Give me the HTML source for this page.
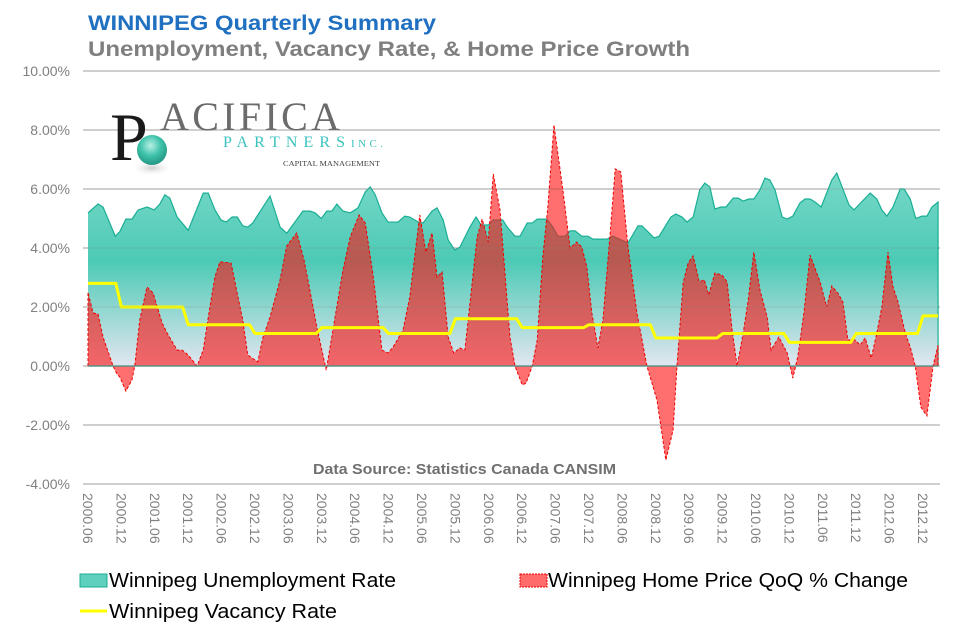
<!DOCTYPE html>
<html><head><meta charset="utf-8"><style>
html,body{margin:0;padding:0;background:#fff;}
svg{display:block;font-family:"Liberation Sans",Arial,sans-serif;}
</style></head><body>
<svg id="chart" width="963" height="640" viewBox="0 0 963 640" xmlns="http://www.w3.org/2000/svg">
<defs>
<linearGradient id="tealGrad" gradientUnits="userSpaceOnUse" x1="0" y1="175" x2="0" y2="366">
<stop offset="0" stop-color="#78d8c8"/><stop offset="0.45" stop-color="#4ccab5"/><stop offset="1" stop-color="#e2e6f0"/>
</linearGradient>
<radialGradient id="sphere" cx="0.45" cy="0.35" r="0.7">
<stop offset="0" stop-color="#b8f0e6"/><stop offset="0.5" stop-color="#3ec2aa"/><stop offset="1" stop-color="#1f8f7c"/>
</radialGradient>
<radialGradient id="shadow" cx="0.5" cy="0.5" r="0.5">
<stop offset="0" stop-color="#aaa" stop-opacity="0.6"/><stop offset="1" stop-color="#fff" stop-opacity="0"/>
</radialGradient>
</defs>
<text x="88" y="30" font-size="21" font-weight="bold" fill="#1f70c1" textLength="348" lengthAdjust="spacingAndGlyphs">WINNIPEG Quarterly Summary</text>
<text x="88" y="56" font-size="21" font-weight="bold" fill="#7f7f7f" textLength="602" lengthAdjust="spacingAndGlyphs">Unemployment, Vacancy Rate, &amp; Home Price Growth</text>
<g id="grid"></g>
<g id="yticks"></g>
<g id="xticks"></g>
<g id="series"></g>
<g id="grid2"></g>
<g>
<ellipse cx="152" cy="168" rx="22" ry="8" fill="url(#shadow)"/>
<text x="110" y="160" font-family="'Liberation Serif',serif" font-size="68" fill="#1a1a1a">P</text>
<circle cx="152" cy="150" r="15" fill="url(#sphere)"/>
<text x="160" y="130" font-family="'Liberation Serif',serif" font-size="40" fill="#6b6b6b" textLength="180" lengthAdjust="spacing">ACIFICA</text>
<text x="223" y="147" font-family="'Liberation Serif',serif" font-size="16" fill="#3cc3bd" textLength="122" lengthAdjust="spacing">PARTNERS</text>
<text x="351" y="147" font-family="'Liberation Serif',serif" font-size="11" fill="#3cc3bd" textLength="32" lengthAdjust="spacing">INC.</text>
<text x="283" y="166" font-family="'Liberation Serif',serif" font-size="7" fill="#444" textLength="97" lengthAdjust="spacingAndGlyphs">CAPITAL MANAGEMENT</text>
</g>
<text x="313" y="474" font-size="15" font-weight="bold" fill="#707070" textLength="303" lengthAdjust="spacingAndGlyphs">Data Source: Statistics Canada CANSIM</text>
<g>
<g>
<rect x="80" y="574" width="27" height="13" fill="#5fd0bd" stroke="#1aae94"/>
<text x="109" y="587" font-size="20" fill="#000" textLength="287" lengthAdjust="spacingAndGlyphs">Winnipeg Unemployment Rate</text>
</g>
<g>
<rect x="520" y="574" width="27" height="13" fill="#ff6b6b" stroke="#e00" stroke-dasharray="2,1"/>
<text x="548" y="587" font-size="20" fill="#000" textLength="360" lengthAdjust="spacingAndGlyphs">Winnipeg Home Price QoQ % Change</text>
</g>
<g>
<line x1="80" y1="611" x2="107" y2="611" stroke="#ffff00" stroke-width="3"/>
<text x="109" y="618" font-size="20" fill="#000" textLength="228" lengthAdjust="spacingAndGlyphs">Winnipeg Vacancy Rate</text>
</g>
</g>
</svg>
<script>
const yTicks = [10, 8, 6, 4, 2, 0, -2, -4];
const xLabels = ["2000.06","2000.12","2001.06","2001.12","2002.06","2002.12","2003.06","2003.12","2004.06","2004.12","2005.06","2005.12","2006.06","2006.12","2007.06","2007.12","2008.06","2008.12","2009.06","2009.12","2010.06","2010.12","2011.06","2011.12","2012.06","2012.12"];
// months since 2000.06
const unempMonths = [0,1.8,2.7,4.9,5.7,6.8,7.9,9.0,10.6,11.9,12.9,13.8,14.7,16.0,18.0,20.7,21.6,22.8,23.9,24.8,25.9,26.8,27.8,28.7,29.6,32.7,34.5,35.7,38.6,39.9,40.8,41.9,42.9,43.8,44.7,45.8,47.1,48.5,49.8,50.7,51.6,52.8,53.9,55.7,56.9,57.8,59.3,60.2,61.8,62.7,63.8,64.7,65.9,66.8,68.6,69.7,70.6,71.9,72.8,74.5,75.3,76.7,77.6,78.9,79.8,80.7,82.4,83.5,84.4,85.7,86.6,87.5,88.7,89.8,90.7,93.2,94.3,97.0,98.8,99.5,101.7,102.6,104.7,105.6,106.7,107.6,108.7,109.9,110.8,111.7,112.6,113.7,114.6,115.9,116.8,117.7,118.7,119.6,120.7,121.6,122.5,123.4,124.7,125.6,126.6,127.9,128.8,129.7,130.6,131.7,133.6,134.5,136.7,137.6,140.5,141.7,142.6,143.5,144.6,145.9,146.6,147.7,148.7,149.8,150.7,151.6,152.7];
const unempValues = [5.19,5.49,5.39,4.4,4.55,4.98,4.98,5.29,5.39,5.29,5.49,5.8,5.69,5.05,4.6,5.86,5.86,5.29,4.95,4.88,5.05,5.05,4.75,4.71,4.85,5.76,4.71,4.5,5.25,5.25,5.19,5.0,5.25,5.25,5.49,5.25,5.19,5.36,5.9,6.07,5.8,5.19,4.88,4.88,5.08,5.05,4.88,4.85,5.25,5.36,4.95,4.27,3.93,4.03,4.71,5.05,4.78,4.78,4.95,4.95,4.71,4.4,4.4,4.85,4.85,4.98,4.98,4.71,4.4,4.4,4.58,4.58,4.4,4.4,4.3,4.3,4.4,4.17,4.75,4.75,4.34,4.4,5.05,5.15,5.05,4.88,5.05,5.97,6.2,6.07,5.32,5.39,5.39,5.69,5.69,5.59,5.66,5.66,5.97,6.37,6.3,5.97,5.05,4.98,5.08,5.53,5.66,5.66,5.56,5.39,6.3,6.54,5.46,5.29,5.86,5.66,5.29,5.08,5.39,6.0,6.0,5.66,5.0,5.08,5.08,5.39,5.56];
const homeMonths = [0,0.9,1.8,2.7,4.5,5.2,5.7,6.8,7.9,8.4,9.3,10.6,11.7,13.3,14.2,16.0,16.9,18.0,19.6,20.7,21.9,22.8,23.7,25.7,26.8,27.8,28.7,30.5,31.4,32.7,34.5,35.7,37.5,38.8,39.5,41.1,42.8,44.0,45.8,47.1,48.7,49.8,51.2,52.8,53.9,54.8,56.6,57.8,59.6,60.7,61.8,62.7,63.6,64.7,65.7,66.8,67.7,69.9,70.8,71.9,72.8,74.0,75.8,76.7,78.0,78.7,79.8,80.7,81.7,82.6,83.7,85.3,86.6,87.8,88.7,89.6,90.5,91.6,92.5,93.8,94.7,95.7,97.0,98.6,100.4,102.2,103.8,105.1,105.8,106.9,107.8,108.7,109.8,110.7,111.5,112.6,113.9,114.8,115.7,116.6,117.7,118.6,119.6,120.7,122.0,122.7,124.1,125.6,126.6,127.5,128.6,129.7,131.5,132.7,133.6,134.7,135.6,136.5,137.8,138.7,139.6,140.7,141.7,142.6,143.7,144.6,145.5,146.8,147.7,148.6,149.6,150.7,151.8,152.7];
const homeValues = [2.5,1.8,1.76,0.98,0,-0.27,-0.37,-0.85,-0.47,0,1.56,2.68,2.47,1.46,1.12,0.54,0.54,0.37,0,0.54,2.0,3.02,3.53,3.49,2.47,1.56,0.37,0.14,0.95,1.66,2.92,4.07,4.51,3.59,2.92,1.32,-0.14,1.22,3.25,4.37,5.12,4.85,3.08,0.54,0.44,0.64,1.22,2.34,5.12,3.86,4.51,3.02,3.19,0.98,0.44,0.61,0.54,4.37,4.98,4.2,6.51,5.3,0.98,0,-0.64,-0.58,0,0.88,3.7,5.39,8.17,5.97,4.0,4.2,4.03,3.36,1.8,0.61,1.56,4.51,6.68,6.58,4.03,1.8,0,-1.15,-3.19,-2.17,0,2.81,3.49,3.73,2.85,2.92,2.41,3.15,3.08,2.85,1.22,0,1.12,2.24,3.86,2.58,1.66,0.54,0.98,0.44,-0.41,0.31,1.8,3.76,2.85,2.0,2.71,2.47,2.17,0.88,0.88,0.71,0.95,0.27,1.12,2.0,3.86,2.68,2.17,1.12,0.64,0,-1.39,-1.69,0,0.71];
// annual vacancy rate, changes each November
const vacancyYears = [2000,2001,2002,2003,2004,2005,2006,2007,2008,2009,2010,2011,2012,2013];
const vacancyValues = [2.8,2.0,1.4,1.1,1.3,1.1,1.6,1.3,1.4,0.95,1.1,0.8,1.1,1.7];

const NS = "http://www.w3.org/2000/svg";
const X0 = 88, PXM = 5.567, Y0 = 366, PXV = 29.5, XEND = 152.7;
function xs(m){ return X0 + m*PXM; }
function ys(v){ return Y0 - v*PXV; }
function mk(tag, attrs, parent){ const e=document.createElementNS(NS,tag); for(const k in attrs) e.setAttribute(k, attrs[k]); parent.appendChild(e); return e; }

const grid = document.getElementById('grid'), grid2=document.getElementById('grid2'), yt=document.getElementById('yticks'), xt=document.getElementById('xticks'), ser=document.getElementById('series');
yTicks.forEach(v=>{
  const l = mk('line',{x1:83,x2:940,y1:ys(v),y2:ys(v),stroke:'#bfbfbf','stroke-width':1.3},grid);
  
  
  const l2 = mk('line',{x1:83,x2:940,y1:ys(v),y2:ys(v),stroke:'#808080','stroke-opacity':0.25,'stroke-width':1},grid2);
  
  
  const t = mk('text',{x:70,y:ys(v)+5,'text-anchor':'end','font-size':14,fill:'#808080'},yt);
  t.textContent = v.toFixed(2)+'%';
  
  
});
xLabels.forEach((s,i)=>{
  const x = xs(i*6);
  const t = mk('text',{x:0,y:0,transform:`translate(${x-5},493) rotate(90)`,'font-size':14,fill:'#808080'},xt);
  t.textContent = s;
  
  
});
let d = `M${xs(unempMonths[0])},${Y0}`;
unempMonths.forEach((m,i)=>{ d += ` L${xs(m)},${ys(unempValues[i])}`; });
d += ` L${xs(unempMonths[unempMonths.length-1])},${Y0} Z`;
const ua = mk('path',{d:d,fill:'url(#tealGrad)'},ser);


let dl = ''; unempMonths.forEach((m,i)=>{ dl += (i?' L':'M')+xs(m)+','+ys(unempValues[i]); });
dl += ` L${xs(unempMonths[unempMonths.length-1])},${Y0}`;
const ul = mk('path',{d:dl,fill:'none',stroke:'#1aae94','stroke-width':1.2},ser);


let hd = `M${xs(homeMonths[0])},${Y0}`;
homeMonths.forEach((m,i)=>{ hd += ` L${xs(m)},${ys(homeValues[i])}`; });
hd += ` L${xs(homeMonths[homeMonths.length-1])},${Y0} Z`;
const ha = mk('path',{d:hd,fill:'rgb(255,15,15)','fill-opacity':0.6,stroke:'#ee0000','stroke-width':1,'stroke-dasharray':'3,2'},ser);


const zl = mk('line',{x1:xs(0),x2:xs(XEND),y1:Y0,y2:Y0,stroke:'#2a9a86','stroke-width':1.2},ser);


let vd = '';
vacancyYears.forEach((yr,i)=>{
  const start = i===0 ? 0 : (yr-2000)*12 - 7 + 1;
  const end = Math.min((yr-2000)*12 + 5, XEND);
  vd += (i?' L':'M') + xs(start) + ',' + ys(vacancyValues[i]) + ' L' + xs(end) + ',' + ys(vacancyValues[i]);
});
const vl = mk('path',{d:vd,fill:'none',stroke:'#ffff00','stroke-width':3,'stroke-linejoin':'round'},ser);


</script>
</body></html>
